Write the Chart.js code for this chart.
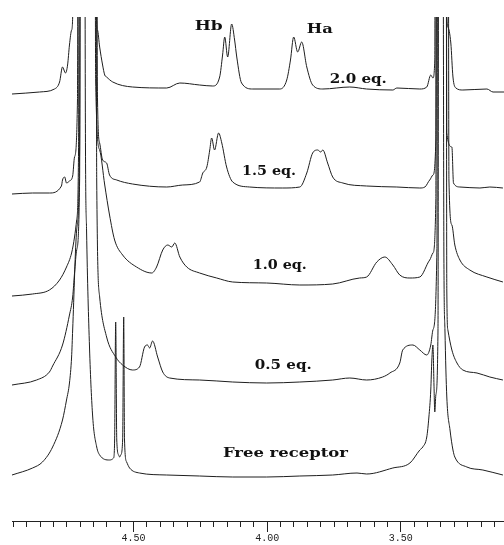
<!DOCTYPE html>
<html><head><meta charset="utf-8">
<script src="https://cdn.jsdelivr.net/npm/chart.js@4.4.1/dist/chart.umd.min.js"></script>
<style>html,body{margin:0;padding:0;background:#fff;}#wrap{width:504px;height:545px;}</style>
</head><body>
<div id="wrap"><canvas id="c" width="504" height="545"></canvas></div>
<script>
// ---- data: chemical shift (ppm) and signal intensity for each titration step ----
const seriesNames = ['2.0 eq.', '1.5 eq.', '1.0 eq.', '0.5 eq.', 'Free receptor'];

const eq20Ppm = [4.955,4.852,4.796,4.777,4.766,4.755,4.747,4.740,4.732,4.728,4.721,4.642,4.638,4.635,4.627,4.616,4.608,4.601,4.578,4.504,4.376,4.327,4.253,4.204,4.178,4.167,4.159,4.148,4.133,4.122,4.114,4.096,4.054,3.953,3.927,3.913,3.901,3.886,3.871,3.852,3.830,3.792,3.691,3.628,3.530,3.515,3.429,3.403,3.388,3.380,3.373,3.369,3.335,3.328,3.324,3.313,3.305,3.294,3.268,3.178,3.155,3.114];
const eq20Int = [-4,-2,1,8,23,17,25,45,60,73,700,700,73,60,43,25,15,13,8,3,2,7,5,4,13,35,53,33,66,50,33,7,1,1,10,30,53,38,48,23,5,1,3,1,0,2,1,3,15,12,30,700,700,75,63,47,13,2,0,1,-2,-2];

const eq15Ppm = [4.955,4.878,4.815,4.770,4.766,4.758,4.751,4.740,4.728,4.721,4.710,4.706,4.642,4.635,4.627,4.616,4.601,4.590,4.563,4.504,4.376,4.316,4.253,4.241,4.226,4.215,4.208,4.197,4.182,4.170,4.152,4.129,4.066,3.942,3.878,3.852,3.830,3.811,3.800,3.792,3.774,3.755,3.717,3.628,3.515,3.429,3.410,3.392,3.380,3.369,3.365,3.331,3.328,3.309,3.303,3.279,3.204,3.167,3.118];
const eq15Int = [-4,-3,-3,4,10,13,7,9,14,33,90,700,700,90,47,30,27,15,10,6,3,5,8,17,23,40,52,40,57,47,23,8,3,2,3,17,37,40,38,40,27,13,7,4,3,2,3,10,15,50,700,700,57,43,7,3,2,3,2];

const eq10Ppm = [4.955,4.878,4.815,4.777,4.751,4.732,4.721,4.713,4.706,4.702,4.646,4.642,4.627,4.608,4.590,4.571,4.541,4.489,4.432,4.414,4.391,4.372,4.357,4.346,4.327,4.301,4.253,4.189,4.129,4.002,3.878,3.755,3.654,3.628,3.590,3.560,3.530,3.504,3.466,3.429,3.392,3.380,3.369,3.365,3.324,3.320,3.309,3.298,3.279,3.242,3.178,3.118];
const eq10Int = [-6,-4,0,10,23,37,53,70,140,700,700,210,140,105,75,50,35,23,17,23,40,45,43,47,33,23,17,12,8,7,5,6,12,13,28,33,25,15,12,13,30,37,90,700,700,110,65,45,30,20,13,8];

const eq05Ppm = [4.955,4.863,4.815,4.803,4.766,4.740,4.728,4.721,4.713,4.702,4.698,4.642,4.638,4.627,4.601,4.567,4.541,4.504,4.478,4.459,4.448,4.440,4.429,4.410,4.391,4.365,4.253,4.129,4.002,3.878,3.755,3.691,3.628,3.568,3.541,3.504,3.493,3.455,3.429,3.403,3.388,3.380,3.365,3.361,3.331,3.328,3.324,3.309,3.290,3.268,3.215,3.167,3.118];
const eq05Int = [-5,0,8,14,35,65,83,107,130,200,700,700,200,83,43,23,15,10,13,33,35,32,39,23,8,2,0,-2,-3,-2,0,2,0,3,7,17,30,35,30,25,35,50,130,700,700,90,50,30,17,10,7,3,0];

const freePpm = [4.955,4.878,4.841,4.803,4.766,4.751,4.740,4.732,4.728,4.713,4.702,4.698,4.684,4.680,4.676,4.665,4.653,4.638,4.627,4.590,4.575,4.571,4.567,4.563,4.556,4.552,4.548,4.541,4.537,4.534,4.526,4.515,4.478,4.376,4.253,4.129,4.002,3.878,3.755,3.664,3.628,3.530,3.466,3.429,3.418,3.403,3.395,3.388,3.384,3.380,3.376,3.373,3.369,3.361,3.358,3.343,3.339,3.335,3.328,3.316,3.305,3.298,3.253,3.193,3.118];
const freeInt = [0,7,13,28,55,75,92,118,145,245,325,700,700,325,245,128,58,28,20,15,17,35,153,35,20,18,20,35,158,35,13,7,2,0,-1,-2,-2,-1,0,2,1,7,12,25,28,38,58,85,115,130,90,63,80,145,700,700,225,145,78,45,25,18,8,5,0];

const axisLabelValues = [4.50, 4.00, 3.50];
const axisLabelTexts = ['4.50', '4.00', '3.50'];

// ---- presentation ----
const traceOffsets = [431, 331, 231, 141, 46];
const traces = [[eq20Ppm, eq20Int], [eq15Ppm, eq15Int], [eq10Ppm, eq10Int], [eq05Ppm, eq05Int], [freePpm, freeInt]];

const datasets = traces.map((t, i) => ({
  label: seriesNames[i],
  data: t[0].map((p, k) => ({x: p, y: t[1][k] + traceOffsets[i]})),
  borderColor: '#1e1e1e',
  borderWidth: 1,
  pointRadius: 0,
  cubicInterpolationMode: 'monotone',
  fill: false
}));

const annotations = [
  {text: 'Hb', ppm: 4.219, h: 491, font: 'bold 13px "DejaVu Serif"', w: 28},
  {text: 'Ha', ppm: 3.803, h: 488, font: 'bold 13px "DejaVu Serif"', w: 26},
  {text: seriesNames[0], ppm: 3.659, h: 438, font: 'bold 12px "DejaVu Serif"', w: 57},
  {text: seriesNames[1], ppm: 3.993, h: 346, font: 'bold 12px "DejaVu Serif"', w: 54},
  {text: seriesNames[2], ppm: 3.953, h: 252, font: 'bold 12px "DejaVu Serif"', w: 54},
  {text: seriesNames[3], ppm: 3.940, h: 152, font: 'bold 12px "DejaVu Serif"', w: 57},
  {text: seriesNames[4], ppm: 3.932, h: 64, font: 'bold 13px "DejaVu Serif"', w: 125}
];

const textPlugin = {
  id: 'spectrumLabels',
  afterDatasetsDraw(chart) {
    const {ctx, scales: {x, y}} = chart;
    ctx.save();
    ctx.fillStyle = '#111';
    ctx.textAlign = 'center';
    ctx.textBaseline = 'alphabetic';
    for (const a of annotations) {
      ctx.font = a.font;
      const m = ctx.measureText(a.text).width;
      const px = x.getPixelForValue(a.ppm);
      const py = y.getPixelForValue(a.h);
      ctx.save();
      ctx.translate(px, py);
      ctx.scale(a.w / m, 1);
      ctx.fillText(a.text, 0, 0);
      ctx.restore();
    }
    ctx.restore();
  }
};

function majorIndex(v) {
  return axisLabelValues.findIndex(m => Math.abs(m - v) < 1e-6);
}

new Chart(document.getElementById('c'), {
  type: 'line',
  data: {datasets},
  plugins: [textPlugin],
  options: {
    responsive: false,
    animation: false,
    devicePixelRatio: 1,
    events: [],
    layout: {padding: {left: 12, right: 0, top: 17, bottom: 1}},
    plugins: {legend: {display: false}, tooltip: {enabled: false}},
    scales: {
      x: {
        type: 'linear',
        reverse: true,
        min: 3.114,
        max: 4.955,
        afterBuildTicks(scale) {
          const t = [];
          for (let k = 63; k <= 99; k++) t.push({value: Math.round(k * 5) / 100});
          scale.ticks = t;
        },
        ticks: {
          autoSkip: false,
          maxRotation: 0,
          padding: 0,
          color: '#222',
          font: {family: '"Liberation Mono"', size: 10},
          callback: (v) => { const i = majorIndex(v); return i >= 0 ? axisLabelTexts[i] : ''; }
        },
        grid: {
          drawOnChartArea: false,
          drawTicks: true,
          tickLength: 11,
          tickColor: '#222',
          tickWidth: 1,
          tickBorderDash: (c) => (c.tick && majorIndex(c.tick.value) >= 0) ? [] : [5, 40]
        },
        border: {display: true, color: '#222', width: 1}
      },
      y: {
        type: 'linear',
        display: false,
        min: 0,
        max: 504
      }
    }
  }
});
</script>
</body></html>
